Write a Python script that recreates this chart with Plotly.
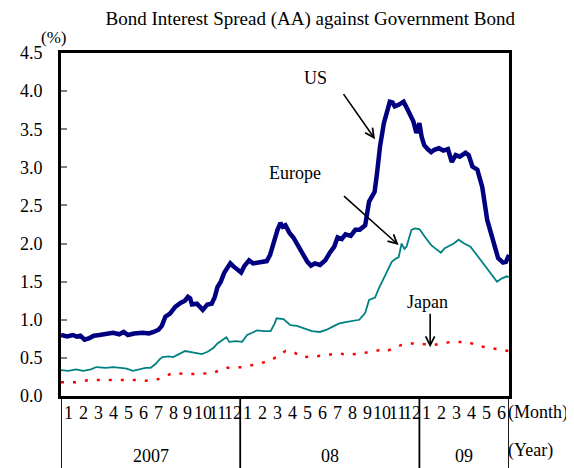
import plotly.graph_objects as go

# time axis: months elapsed since Jan 2007 (0 = start of Jan 2007, 30 = start of Jul 2009)
us_t = [0.0, 0.4, 0.8, 1.05, 1.3, 1.58, 1.9, 2.2, 2.57, 3.0, 3.49, 3.9, 4.2, 4.48, 4.9, 5.47, 5.9, 6.2,
        6.53, 6.75, 6.99, 7.3, 7.65, 8.0, 8.3, 8.5, 8.65, 8.77, 9.1, 9.49, 9.8, 10.09, 10.3, 10.48, 10.7,
        10.94, 11.15, 11.34, 11.55, 11.8, 12.06, 12.26, 12.59, 12.85, 13.12, 13.5, 13.78, 14.0, 14.24,
        14.5, 14.7, 14.85, 15.03, 15.3, 15.56, 15.9, 16.22, 16.5, 16.74, 17.0, 17.34, 17.7, 18.0, 18.3,
        18.52, 18.8, 19.05, 19.4, 19.71, 20.0, 20.37, 20.5, 20.63, 20.83, 21.0, 21.16, 21.36, 21.62,
        21.85, 22.02, 22.2, 22.35, 22.6, 22.94, 23.1, 23.34, 23.6, 23.8, 24.0, 24.15, 24.32, 24.55,
        24.79, 25.0, 25.31, 25.6, 25.91, 26.17, 26.43, 26.7, 27.09, 27.3, 27.55, 27.88, 28.21, 28.54,
        28.94, 29.27, 29.6, 29.8, 30.0]
us_v = [0.80, 0.78, 0.80, 0.78, 0.79, 0.74, 0.76, 0.79, 0.80, 0.82, 0.83, 0.81, 0.84, 0.80, 0.82, 0.83,
        0.82, 0.84, 0.87, 0.92, 1.04, 1.08, 1.17, 1.22, 1.25, 1.30, 1.28, 1.20, 1.21, 1.13, 1.20, 1.21,
        1.30, 1.43, 1.50, 1.62, 1.68, 1.74, 1.70, 1.66, 1.62, 1.70, 1.78, 1.74, 1.75, 1.76, 1.77, 1.85,
        2.02, 2.18, 2.27, 2.22, 2.24, 2.14, 2.08, 1.96, 1.83, 1.76, 1.71, 1.74, 1.72, 1.78, 1.88, 1.96,
        2.08, 2.06, 2.12, 2.10, 2.18, 2.18, 2.24, 2.40, 2.55, 2.62, 2.68, 2.92, 3.27, 3.58, 3.72, 3.86,
        3.85, 3.80, 3.82, 3.86, 3.80, 3.71, 3.60, 3.45, 3.58, 3.40, 3.29, 3.24, 3.20, 3.23, 3.25, 3.22,
        3.24, 3.07, 3.16, 3.14, 3.19, 3.16, 3.01, 2.97, 2.74, 2.31, 2.05, 1.81, 1.75, 1.76, 1.85]

eu_t = [0.0, 0.5, 1.0, 1.5, 2.0, 2.37, 3.0, 3.49, 4.0, 4.4, 4.81, 5.2, 5.67, 6.0, 6.33, 6.6, 6.79, 7.2,
        7.51, 7.9, 8.31, 8.9, 9.43, 9.82, 10.2, 10.48, 10.8, 11.07, 11.27, 11.7, 12.13, 12.46, 12.8,
        13.12, 13.6, 14.04, 14.3, 14.44, 14.9, 15.36, 15.8, 16.22, 16.8, 17.34, 17.8, 18.19, 18.6,
        19.05, 19.5, 19.97, 20.2, 20.37, 20.63, 21.03, 21.3, 21.49, 21.8, 22.15, 22.4, 22.61, 22.81,
        23.0, 23.14, 23.47, 23.7, 24.0, 24.4, 24.79, 25.1, 25.44, 25.7, 25.91, 26.3, 26.63, 27.0,
        27.42, 27.8, 28.08, 28.4, 28.74, 29.0, 29.2, 29.5, 29.86, 30.0]
eu_v = [0.34, 0.33, 0.35, 0.33, 0.35, 0.38, 0.37, 0.38, 0.37, 0.36, 0.33, 0.35, 0.37, 0.37, 0.42, 0.48,
        0.51, 0.52, 0.51, 0.55, 0.59, 0.57, 0.55, 0.58, 0.63, 0.69, 0.73, 0.77, 0.71, 0.72, 0.71, 0.80,
        0.83, 0.86, 0.85, 0.85, 0.95, 1.02, 1.01, 0.93, 0.92, 0.89, 0.85, 0.84, 0.87, 0.91, 0.95, 0.97,
        0.98, 1.00, 1.05, 1.09, 1.26, 1.29, 1.42, 1.50, 1.62, 1.76, 1.80, 1.82, 2.00, 1.93, 1.96, 2.18,
        2.20, 2.19, 2.08, 1.98, 1.93, 1.88, 1.94, 1.96, 2.00, 2.05, 2.00, 1.96, 1.86, 1.78, 1.70, 1.61,
        1.55, 1.50, 1.54, 1.57, 1.56]

jp_t = [0.0, 1.0, 1.91, 3.0, 4.15, 5.0, 5.67, 6.33, 6.9, 7.45, 8.2, 8.97, 10.09, 11.14, 12.26, 12.92,
        13.78, 14.44, 15.03, 15.56, 16.08, 17.07, 18.0, 18.66, 19.05, 20.17, 21.29, 21.69, 22.81, 23.47,
        24.32, 24.98, 26.1, 27.22, 27.88, 28.74, 29.73, 30.0]
jp_v = [0.18, 0.18, 0.21, 0.21, 0.21, 0.21, 0.20, 0.21, 0.25, 0.30, 0.29, 0.29, 0.30, 0.37, 0.38, 0.41,
        0.45, 0.51, 0.59, 0.58, 0.51, 0.52, 0.54, 0.56, 0.54, 0.56, 0.60, 0.58, 0.67, 0.69, 0.68, 0.67,
        0.71, 0.71, 0.66, 0.63, 0.59, 0.59]

month_labels = [str(m) for m in range(1, 13)] * 2 + [str(m) for m in range(1, 7)]
year_labels = ["2007", "08", "09"]
year_bounds = [0, 12, 24, 30]
y_ticks = [0.0, 0.5, 1.0, 1.5, 2.0, 2.5, 3.0, 3.5, 4.0, 4.5]

SERIF = "Liberation Serif, Times New Roman, serif"

# the page body adds an 8px margin, so the figure is 8px smaller than the window
W, H = 566, 460
M_L, M_T, M_R, M_B = 46, 45, 65, 72

fig = go.Figure()
fig.add_trace(go.Scatter(x=us_t, y=us_v, mode="lines", name="US",
                         line=dict(color="#000080", width=4.5)))
fig.add_trace(go.Scatter(x=eu_t, y=eu_v, mode="lines", name="Europe",
                         line=dict(color="#008080", width=1.8)))
fig.add_trace(go.Scatter(x=jp_t, y=jp_v, mode="lines", name="Japan",
                         line=dict(color="#FF0000", width=2.5, dash="3px,9px")))

plot_h = H - M_T - M_B
def py(pix_below):
    return -pix_below / plot_h

annotations = []
for i, lab in enumerate(month_labels):
    annotations.append(dict(x=i + 0.5, y=py(17), xref="x", yref="paper", text=lab,
                            showarrow=False, font=dict(family=SERIF, size=18, color="black"),
                            xanchor="center", yanchor="middle"))
for j, lab in enumerate(year_labels):
    annotations.append(dict(x=(year_bounds[j] + year_bounds[j + 1]) / 2, y=py(60), xref="x",
                            yref="paper", text=lab, showarrow=False,
                            font=dict(family=SERIF, size=18, color="black"),
                            xanchor="center", yanchor="middle"))
annotations.append(dict(x=1.0, y=py(17), xref="paper", yref="paper", text="(Month)", showarrow=False,
                        font=dict(family=SERIF, size=18, color="black"), xanchor="left",
                        yanchor="middle", xshift=-3))
annotations.append(dict(x=1.0, y=py(54), xref="paper", yref="paper", text="(Year)", showarrow=False,
                        font=dict(family=SERIF, size=18, color="black"), xanchor="left",
                        yanchor="middle", xshift=-3))
annotations.append(dict(x=0, y=1.0, xref="paper", yref="paper", text="(%)", showarrow=False,
                        font=dict(family=SERIF, size=17, color="black"), xanchor="center",
                        yanchor="bottom", xshift=-8, yshift=4))
for txt, tx, ty in [("US", 17.07, 4.17), ("Europe", 15.69, 2.93), ("Japan", 24.52, 1.23)]:
    annotations.append(dict(x=tx, y=ty, xref="x", yref="y", text=txt, showarrow=False,
                            font=dict(family=SERIF, size=18, color="black")))
for hx, hy, tx, ty in [(21.03, 3.37, 18.85, 3.98), (22.61, 1.98, 18.85, 2.64),
                       (24.72, 0.64, 24.72, 1.10)]:
    annotations.append(dict(x=hx, y=hy, ax=tx, ay=ty, xref="x", yref="y", axref="x", ayref="y",
                            text="", showarrow=True, arrowhead=5, arrowsize=1.1, arrowwidth=1.6,
                            arrowcolor="black"))

shapes = []
for b in year_bounds:
    shapes.append(dict(type="line", xref="x", yref="paper", x0=b, x1=b, y0=0, y1=py(M_B + 2),
                       line=dict(color="black", width=1.8)))

fig.update_layout(
    width=W, height=H,
    margin=dict(l=M_L, r=M_R, t=M_T, b=M_B),
    paper_bgcolor="white", plot_bgcolor="white",
    showlegend=False,
    title=dict(text="Bond Interest Spread (AA) against Government Bond", x=0.534, xanchor="center",
               y=0.978, yanchor="middle", font=dict(family=SERIF, size=19, color="black")),
    xaxis=dict(range=[0, 30], showgrid=False, zeroline=False, showticklabels=False, ticks="",
               showline=True, linecolor="black", linewidth=3, mirror=True),
    yaxis=dict(range=[0, 4.5], tickvals=y_ticks, tickformat=".1f", showgrid=False, zeroline=False,
               ticks="inside", ticklen=6, tickcolor="#808080", tickwidth=1.5,
               showline=True, linecolor="black", linewidth=3, mirror=True,
               tickfont=dict(family=SERIF, size=18, color="black"), ticklabelstandoff=12),
    annotations=annotations,
    shapes=shapes,
)

fig.write_html("out.html")
